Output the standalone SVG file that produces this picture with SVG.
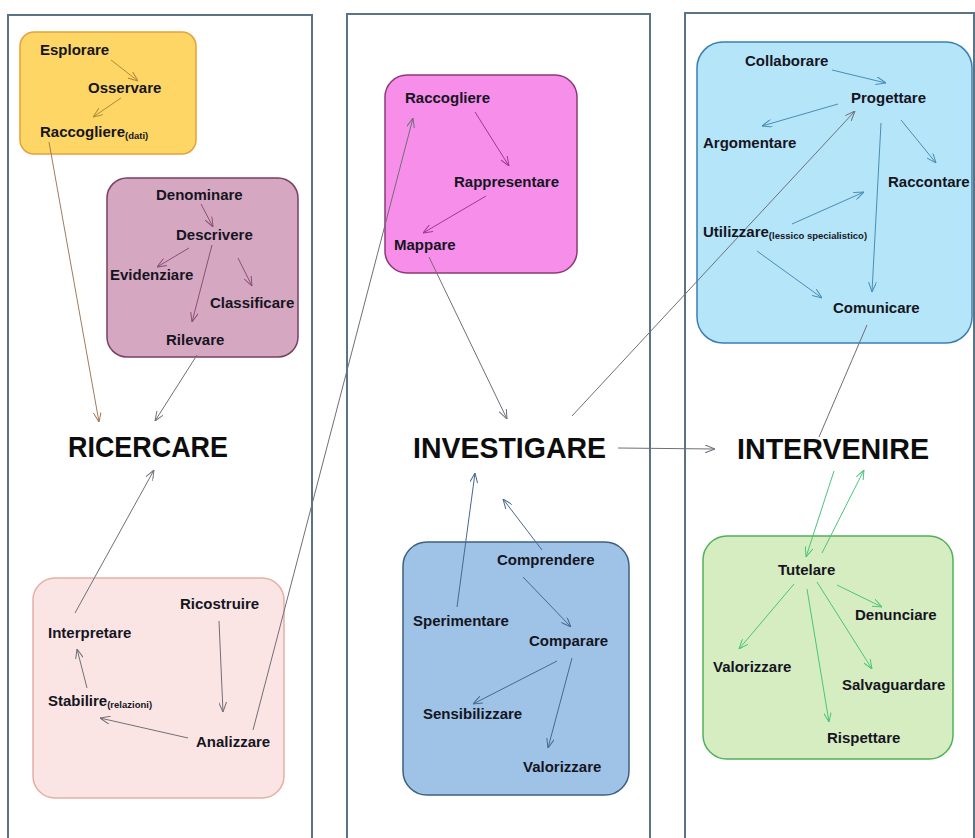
<svg xmlns="http://www.w3.org/2000/svg" width="975" height="838" viewBox="0 0 975 838">
<defs>
<style>
.panel{fill:#fff;stroke:#5b7386;stroke-width:2}
.t{font-family:"Liberation Sans",Arial,sans-serif;font-weight:bold;font-size:15px;fill:#15151f}
.s{font-size:9.5px}
.big{font-family:"Liberation Sans",Arial,sans-serif;font-weight:bold;font-size:29.5px;fill:#0d0d0d}
.c{fill:none;stroke-width:1}
</style>
<marker id="mY" viewBox="0 0 10 8" refX="10" refY="4" markerWidth="10" markerHeight="8" markerUnits="userSpaceOnUse" orient="auto"><path d="M0,0 L10,4 L0,8" fill="none" stroke="#b08a3c" stroke-width="1"/></marker>
<marker id="mBr" viewBox="0 0 10 8" refX="10" refY="4" markerWidth="10" markerHeight="8" markerUnits="userSpaceOnUse" orient="auto"><path d="M0,0 L10,4 L0,8" fill="none" stroke="#a27a5c" stroke-width="1"/></marker>
<marker id="mP" viewBox="0 0 10 8" refX="10" refY="4" markerWidth="10" markerHeight="8" markerUnits="userSpaceOnUse" orient="auto"><path d="M0,0 L10,4 L0,8" fill="none" stroke="#8c4f78" stroke-width="1"/></marker>
<marker id="mG" viewBox="0 0 10 8" refX="10" refY="4" markerWidth="10" markerHeight="8" markerUnits="userSpaceOnUse" orient="auto"><path d="M0,0 L10,4 L0,8" fill="none" stroke="#6f6f78" stroke-width="1"/></marker>
<marker id="mM" viewBox="0 0 10 8" refX="10" refY="4" markerWidth="10" markerHeight="8" markerUnits="userSpaceOnUse" orient="auto"><path d="M0,0 L10,4 L0,8" fill="none" stroke="#9b3c90" stroke-width="1"/></marker>
<marker id="mB" viewBox="0 0 10 8" refX="10" refY="4" markerWidth="10" markerHeight="8" markerUnits="userSpaceOnUse" orient="auto"><path d="M0,0 L10,4 L0,8" fill="none" stroke="#46698f" stroke-width="1"/></marker>
<marker id="mC" viewBox="0 0 10 8" refX="10" refY="4" markerWidth="10" markerHeight="8" markerUnits="userSpaceOnUse" orient="auto"><path d="M0,0 L10,4 L0,8" fill="none" stroke="#4a8db5" stroke-width="1"/></marker>
<marker id="mGr" viewBox="0 0 10 8" refX="10" refY="4" markerWidth="10" markerHeight="8" markerUnits="userSpaceOnUse" orient="auto"><path d="M0,0 L10,4 L0,8" fill="none" stroke="#4cc47a" stroke-width="1"/></marker>
</defs>
<rect width="975" height="838" fill="#fff"/>

<g id="panels">
<rect class="panel" x="8" y="15" width="304" height="840"/>
<rect class="panel" x="347" y="14" width="303" height="840"/>
<rect class="panel" x="685" y="13" width="289" height="840"/>
</g>

<g id="boxes">
<rect id="box-yellow" x="20" y="32" width="176" height="122" rx="14" fill="#fdd666" stroke="#e6a23c" stroke-width="1.5"/>
<rect id="box-purple" x="107" y="178" width="191" height="179" rx="20" fill="#d5a7c1" stroke="#7b3f62" stroke-width="1.5"/>
<rect id="box-pink" x="33" y="578" width="251" height="220" rx="22" fill="#fbe5e4" stroke="#e5afa6" stroke-width="1.5"/>
<rect id="box-magenta" x="385" y="75" width="192" height="198" rx="22" fill="#f78ee9" stroke="#8a3a78" stroke-width="1.5"/>
<rect id="box-blue" x="403" y="542" width="226" height="253" rx="24" fill="#9fc3e7" stroke="#3f5f80" stroke-width="1.5"/>
<rect id="box-cyan" x="697" y="42" width="275" height="301" rx="26" fill="#b5e5f8" stroke="#3a7fb0" stroke-width="1.5"/>
<rect id="box-green" x="703" y="536" width="250" height="223" rx="24" fill="#d6edc1" stroke="#52b05a" stroke-width="1.5"/>
</g>

<g id="connectors">
<line class="c" stroke="#b08a3c" x1="111" y1="60" x2="138" y2="81" marker-end="url(#mY)"/>
<line class="c" stroke="#b08a3c" x1="121" y1="98" x2="93" y2="117" marker-end="url(#mY)"/>
<line class="c" stroke="#a27a5c" x1="49" y1="142" x2="99" y2="422" marker-end="url(#mBr)"/>
<line class="c" stroke="#8c4f78" x1="201" y1="204" x2="213" y2="227" marker-end="url(#mP)"/>
<line class="c" stroke="#8c4f78" x1="189" y1="248" x2="157" y2="267" marker-end="url(#mP)"/>
<line class="c" stroke="#8c4f78" x1="212" y1="245" x2="192" y2="322" marker-end="url(#mP)"/>
<line class="c" stroke="#8c4f78" x1="238" y1="258" x2="252" y2="286" marker-end="url(#mP)"/>
<line class="c" stroke="#6f6f78" x1="197" y1="355" x2="155" y2="421" marker-end="url(#mG)"/>
<line class="c" stroke="#6f6f78" x1="75" y1="613" x2="154" y2="470" marker-end="url(#mG)"/>
<line class="c" stroke="#6f6f78" x1="87" y1="688" x2="77" y2="649" marker-end="url(#mG)"/>
<line class="c" stroke="#6f6f78" x1="219" y1="621" x2="223" y2="712" marker-end="url(#mG)"/>
<line class="c" stroke="#6f6f78" x1="188" y1="738" x2="100" y2="718" marker-end="url(#mG)"/>
<line class="c" stroke="#6f6f78" x1="253" y1="730" x2="413" y2="118" marker-end="url(#mG)"/>
<line class="c" stroke="#9b3c90" x1="475" y1="112" x2="509" y2="166" marker-end="url(#mM)"/>
<line class="c" stroke="#9b3c90" x1="486" y1="196" x2="423" y2="233" marker-end="url(#mM)"/>
<line class="c" stroke="#6f6f78" x1="429" y1="257" x2="507" y2="419" marker-end="url(#mG)"/>
<line class="c" stroke="#6f6f78" x1="572" y1="416" x2="855" y2="111" marker-end="url(#mG)"/>
<line class="c" stroke="#6f6f78" x1="618" y1="448" x2="715" y2="449" marker-end="url(#mG)"/>
<line class="c" stroke="#46698f" x1="457" y1="607" x2="475" y2="473" marker-end="url(#mB)"/>
<line class="c" stroke="#46698f" x1="542" y1="550" x2="503" y2="499" marker-end="url(#mB)"/>
<line class="c" stroke="#46698f" x1="523" y1="577" x2="571" y2="627" marker-end="url(#mB)"/>
<line class="c" stroke="#46698f" x1="557" y1="661" x2="473" y2="704" marker-end="url(#mB)"/>
<line class="c" stroke="#46698f" x1="572" y1="658" x2="548" y2="748" marker-end="url(#mB)"/>
<line class="c" stroke="#4a8db5" x1="832" y1="70" x2="886" y2="83" marker-end="url(#mC)"/>
<line class="c" stroke="#4a8db5" x1="838" y1="104" x2="762" y2="126" marker-end="url(#mC)"/>
<line class="c" stroke="#4a8db5" x1="901" y1="120" x2="936" y2="163" marker-end="url(#mC)"/>
<line class="c" stroke="#4a8db5" x1="881" y1="123" x2="872" y2="292" marker-end="url(#mC)"/>
<line class="c" stroke="#4a8db5" x1="792" y1="224" x2="864" y2="192" marker-end="url(#mC)"/>
<line class="c" stroke="#4a8db5" x1="757" y1="251" x2="822" y2="298" marker-end="url(#mC)"/>
<line class="c" stroke="#6f6f78" x1="867" y1="325" x2="819" y2="437"/>
<line class="c" stroke="#4cc47a" x1="834" y1="471" x2="806" y2="557" marker-end="url(#mGr)"/>
<line class="c" stroke="#4cc47a" x1="822" y1="553" x2="864" y2="470" marker-end="url(#mGr)"/>
<line class="c" stroke="#4cc47a" x1="837" y1="585" x2="882" y2="607" marker-end="url(#mGr)"/>
<line class="c" stroke="#4cc47a" x1="794" y1="584" x2="739" y2="649" marker-end="url(#mGr)"/>
<line class="c" stroke="#4cc47a" x1="817" y1="582" x2="872" y2="669" marker-end="url(#mGr)"/>
<line class="c" stroke="#4cc47a" x1="807" y1="589" x2="829" y2="722" marker-end="url(#mGr)"/>
</g>

<g id="ricercare"><text class="big" x="68" y="457" textLength="160" lengthAdjust="spacingAndGlyphs">RICERCARE</text></g>
<g id="investigare"><text class="big" x="413" y="458" textLength="193" lengthAdjust="spacingAndGlyphs">INVESTIGARE</text></g>
<g id="intervenire"><text class="big" x="737" y="459" textLength="192" lengthAdjust="spacingAndGlyphs">INTERVENIRE</text></g>

<g id="esplorare"><text class="t" x="40" y="55">Esplorare</text></g>
<g id="osservare"><text class="t" x="88" y="93">Osservare</text></g>
<g id="raccogliere-dati"><text class="t" x="40" y="137">Raccogliere<tspan class="s" dy="2">(dati)</tspan></text></g>

<g id="denominare"><text class="t" x="156" y="200">Denominare</text></g>
<g id="descrivere"><text class="t" x="176" y="240">Descrivere</text></g>
<g id="evidenziare"><text class="t" x="110" y="280">Evidenziare</text></g>
<g id="classificare"><text class="t" x="210" y="308">Classificare</text></g>
<g id="rilevare"><text class="t" x="166" y="345">Rilevare</text></g>

<g id="ricostruire"><text class="t" x="180" y="609">Ricostruire</text></g>
<g id="interpretare"><text class="t" x="48" y="638">Interpretare</text></g>
<g id="stabilire"><text class="t" x="48" y="706">Stabilire<tspan class="s" dy="2">(relazioni)</tspan></text></g>
<g id="analizzare"><text class="t" x="196" y="747">Analizzare</text></g>

<g id="raccogliere"><text class="t" x="405" y="103">Raccogliere</text></g>
<g id="rappresentare"><text class="t" x="454" y="187">Rappresentare</text></g>
<g id="mappare"><text class="t" x="394" y="250">Mappare</text></g>

<g id="comprendere"><text class="t" x="497" y="565">Comprendere</text></g>
<g id="sperimentare"><text class="t" x="413" y="626">Sperimentare</text></g>
<g id="comparare"><text class="t" x="529" y="646">Comparare</text></g>
<g id="sensibilizzare"><text class="t" x="423" y="719">Sensibilizzare</text></g>
<g id="valorizzare-b"><text class="t" x="523" y="772">Valorizzare</text></g>

<g id="collaborare"><text class="t" x="745" y="66">Collaborare</text></g>
<g id="progettare"><text class="t" x="851" y="103">Progettare</text></g>
<g id="argomentare"><text class="t" x="703" y="148">Argomentare</text></g>
<g id="raccontare"><text class="t" x="888" y="187">Raccontare</text></g>
<g id="utilizzare"><text class="t" x="703" y="237">Utilizzare<tspan class="s" dy="2">(lessico specialistico)</tspan></text></g>
<g id="comunicare"><text class="t" x="833" y="313">Comunicare</text></g>

<g id="tutelare"><text class="t" x="778" y="575">Tutelare</text></g>
<g id="denunciare"><text class="t" x="855" y="620">Denunciare</text></g>
<g id="valorizzare-g"><text class="t" x="713" y="672">Valorizzare</text></g>
<g id="salvaguardare"><text class="t" x="842" y="690">Salvaguardare</text></g>
<g id="rispettare"><text class="t" x="827" y="743">Rispettare</text></g>
</svg>
